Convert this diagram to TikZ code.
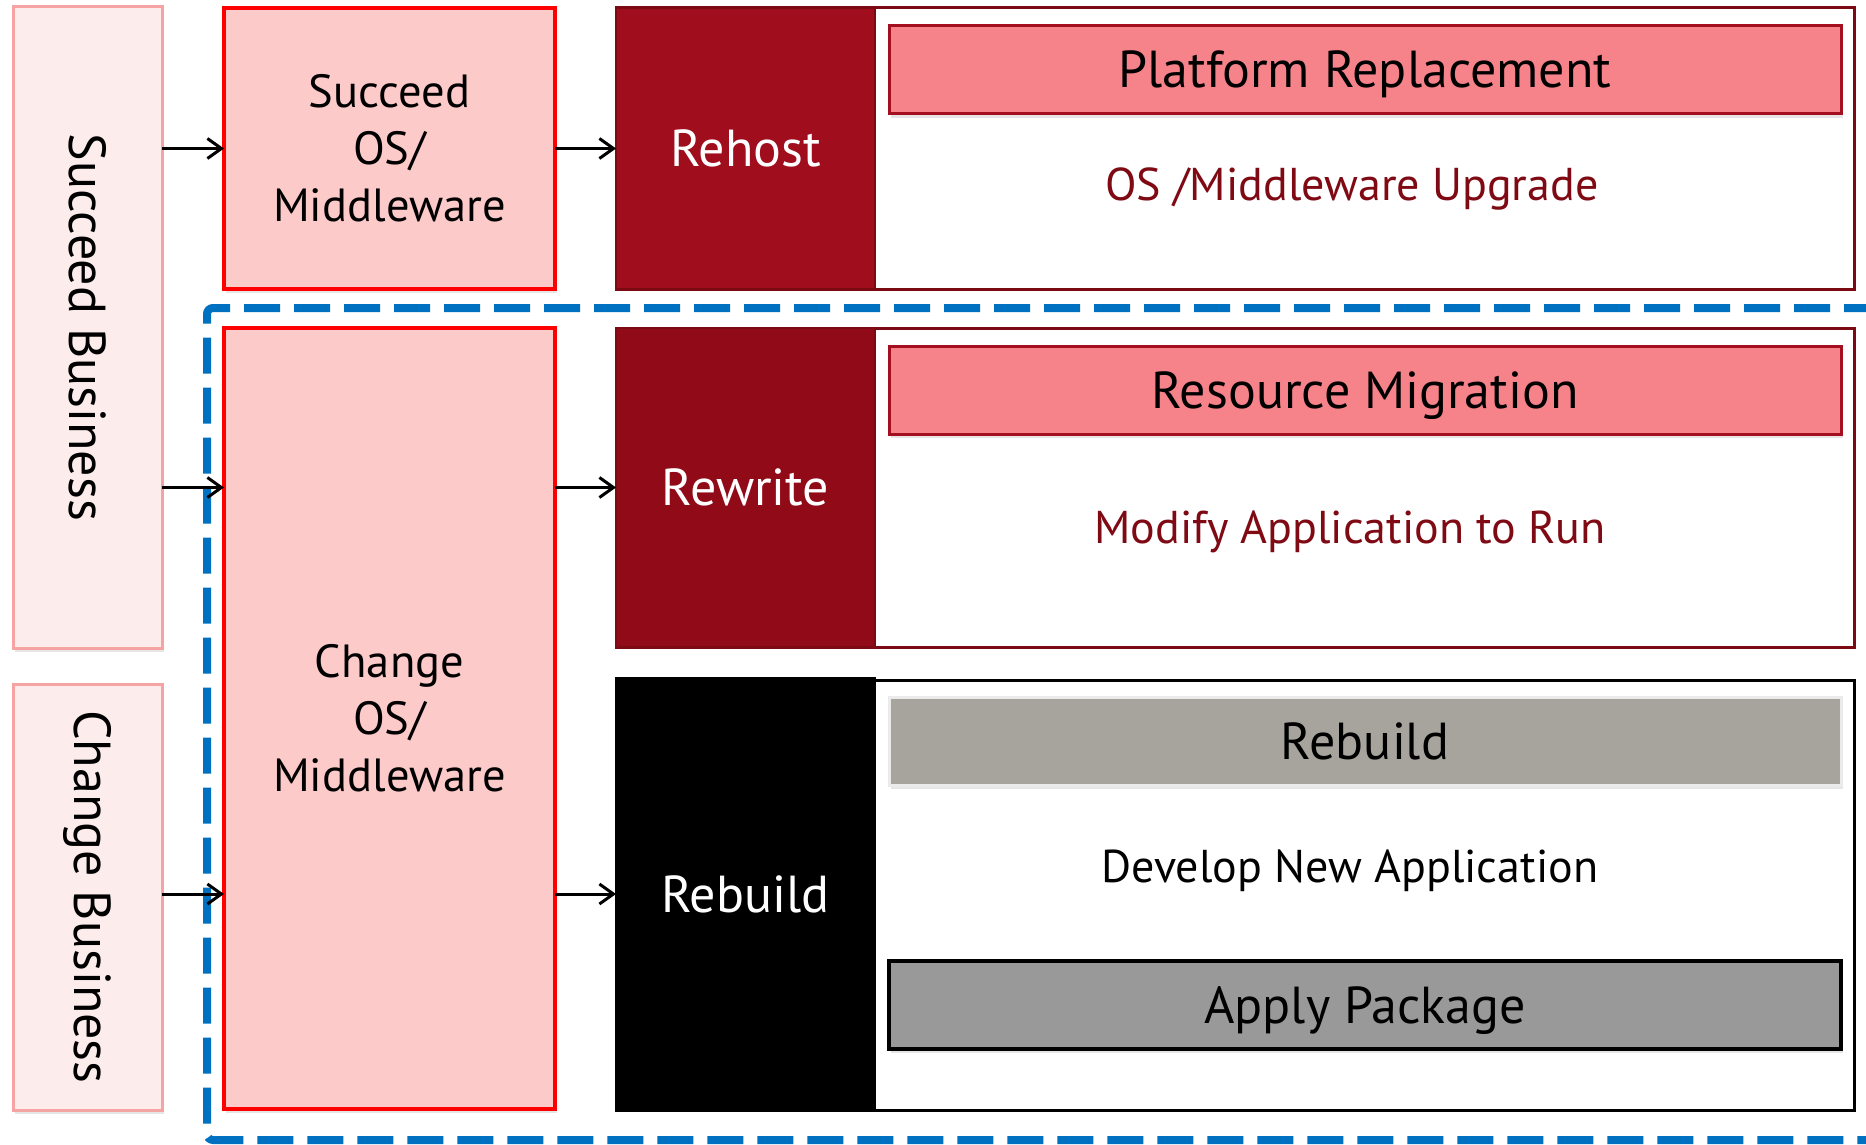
\documentclass[tikz,border=0pt]{standalone}
\usepackage{fontspec}
\setmainfont{PT Sans}
\usetikzlibrary{arrows.meta,shadows}

\definecolor{bizfill}{HTML}{FDECEC}
\definecolor{bizline}{HTML}{F5A3A3}
\definecolor{osfill}{HTML}{FDCACA}
\definecolor{hostred}{HTML}{A00D1C}
\definecolor{writered}{HTML}{910A17}
\definecolor{edgered}{HTML}{7C0A13}
\definecolor{barpink}{HTML}{F6828A}
\definecolor{barline}{HTML}{A30F1E}
\definecolor{textred}{HTML}{7F0A14}
\definecolor{stone}{HTML}{A7A49D}
\definecolor{pkggrey}{HTML}{999999}
\definecolor{dashblue}{HTML}{0070C0}

\newcommand{\bigfont}{\fontsize{52}{60}\selectfont}
\newcommand{\notefont}{\fontsize{46}{55}\selectfont}
\newcommand{\midfont}{\fontsize{46.5}{57}\selectfont}

\tikzset{
  box/.style={anchor=north west, inner sep=0pt, outer sep=0pt},
  soft/.style={drop shadow={shadow xshift=2pt, shadow yshift=-4pt, opacity=0.2}},
  bizbox/.style={box, soft, fill=bizfill, draw=bizline, line width=3pt},
  osbox/.style={box, soft, fill=osfill, draw=red, line width=4pt, font=\midfont, align=center},
  groupbox/.style={box, fill=white, line width=3pt},
  kindbox/.style={box, text=white, font=\bigfont, line width=2pt},
  bar/.style={box, soft, minimum width=952pt, minimum height=88pt, font=\bigfont,
    text height=36pt, text depth=0pt, line width=3pt},
  note/.style={font=\notefont, inner sep=0pt},
  arr/.style={line width=3pt, -{Straight Barb[length=14pt,width=20pt]}}
}

\begin{document}
\begin{tikzpicture}[x=1pt,y=-1pt]
\useasboundingbox (0,0) rectangle (1866,1145);

% business columns
\node[bizbox, minimum width=149pt, minimum height=641pt] (sb) at (13,7) {};
\node[font=\bigfont, rotate=-90] (sbtext) at (sb.center) {Succeed Business};
\node[bizbox, minimum width=149pt, minimum height=426pt] (cb) at (13,684) {};
\node[font=\bigfont, rotate=-90] (cbtext) at (cb.center) {Change Business};

% scope of change
\draw[dashblue, line width=8pt, dash pattern=on 36pt off 14pt, rounded corners=6pt]
  (1880,308) -| (207,1140) -- (1880,1140);

% os / middleware
\node[osbox, minimum width=331pt, minimum height=281pt] (so) at (224,8) {Succeed\\OS/\\Middleware};
\node[osbox, minimum width=331pt, minimum height=781pt] (co) at (224,328) {Change\\OS/\\Middleware};

% rehost
\node[groupbox, draw=edgered, minimum width=1238pt, minimum height=281pt] (rhgrp) at (616,8) {};
\node[kindbox, fill=hostred, draw=edgered, minimum width=259pt, minimum height=281pt] (rh) at (616,8) {Rehost};
\node[bar, fill=barpink, draw=barline] (prbar) at (889,26) {Platform Replacement};
\node[note, text=textred] (upg) at (1352,189) {OS /Middleware Upgrade};

% rewrite
\node[groupbox, draw=edgered, minimum width=1238pt, minimum height=319pt] (rwgrp) at (616,328) {};
\node[kindbox, fill=writered, draw=edgered, minimum width=259pt, minimum height=319pt] (rw) at (616,328) {Rewrite};
\node[bar, fill=barpink, draw=barline] (rmbar) at (889,346) {Resource Migration};
\node[note, text=textred] (mod) at (1350,532) {Modify Application to Run};

% rebuild
\node[groupbox, draw=black, minimum width=1238pt, minimum height=430pt] (rbgrp) at (616,680) {};
\node[kindbox, fill=black, draw=black, minimum width=259pt, minimum height=432pt] (rb) at (616,678) {Rebuild};
\node[bar, fill=stone, draw=white!92!black] (rbbar) at (889,697) {Rebuild};
\node[note] (dev) at (1350,871) {Develop New Application};
\node[bar, fill=pkggrey, draw=black, line width=4pt] (apbar) at (889,961) {Apply Package};

% arrows
\draw[arr] (sb.east |- so.west) -- (so.west);
\draw[arr] (sb.east |- rw.west) -- (co.west |- rw.west);
\draw[arr] (cb.east |- rb.west) -- (co.west |- rb.west);
\draw[arr] (so.east) -- (rh.west);
\draw[arr] (co.east |- rw.west) -- (rw.west);
\draw[arr] (co.east |- rb.west) -- (rb.west);
\end{tikzpicture}
\end{document}
